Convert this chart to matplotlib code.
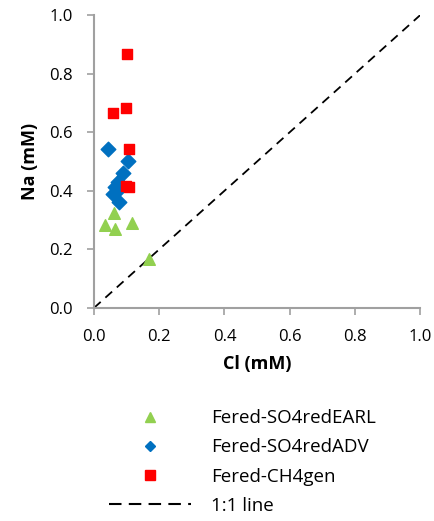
import matplotlib.pyplot as plt
from matplotlib.lines import Line2D

# Data (Cl vs Na, mM)
earl_cl = [0.062, 0.034, 0.064, 0.118, 0.169, 0.075]
earl_na = [0.323, 0.283, 0.270, 0.291, 0.166, 0.437]

adv_cl = [0.044, 0.103, 0.090, 0.064, 0.059, 0.078, 0.075, 0.070]
adv_na = [0.543, 0.502, 0.460, 0.414, 0.390, 0.363, 0.430, 0.400]

ch4_cl = [0.100, 0.057, 0.097, 0.108, 0.108, 0.097]
ch4_na = [0.866, 0.666, 0.683, 0.544, 0.414, 0.416]

one_to_one = [0.0, 1.0]

plt.rcParams['font.family'] = ['Open Sans', 'DejaVu Sans']

fig = plt.figure(figsize=(4.35, 5.21), dpi=100)
ax = fig.add_axes([0.216, 0.409, 0.75, 0.562])

ax.plot(one_to_one, one_to_one, color='black', linestyle=(0, (5, 3.5)), linewidth=1.3, zorder=1)
ax.scatter(earl_cl, earl_na, marker='^', s=70, color='#92d050', zorder=2)
ax.scatter(adv_cl, adv_na, marker='D', s=55, color='#0070c0', zorder=3)
ax.scatter(ch4_cl, ch4_na, marker='s', s=60, color='#ff0000', zorder=4)

ax.set_xlim(0, 1)
ax.set_ylim(0, 1)
ax.set_xticks([0, 0.2, 0.4, 0.6, 0.8, 1.0])
ax.set_yticks([0, 0.2, 0.4, 0.6, 0.8, 1.0])
ax.xaxis.set_major_formatter(plt.FormatStrFormatter('%.1f'))
ax.yaxis.set_major_formatter(plt.FormatStrFormatter('%.1f'))
ax.tick_params(labelsize=12, color='#a0a0a0', length=5, width=1.2, pad=10.5)
for s in ['top', 'right']:
    ax.spines[s].set_visible(False)
for s in ['left', 'bottom']:
    ax.spines[s].set_color('#a0a0a0')
    ax.spines[s].set_linewidth(1.5)

ax.set_xlabel('Cl (mM)', fontsize=13, fontweight='bold', labelpad=7)
ax.set_ylabel('Na (mM)', fontsize=13, fontweight='bold', labelpad=7)

# Legend below plot
handles = [
    Line2D([], [], linestyle='none', marker='^', markersize=7, color='#92d050'),
    Line2D([], [], linestyle='none', marker='D', markersize=5.5, color='#0070c0'),
    Line2D([], [], linestyle='none', marker='s', markersize=7, color='#ff0000'),
    Line2D([], [], color='black', linestyle=(0, (6, 3.5)), linewidth=1.5),
]
labels = ['Fered-SO4redEARL', 'Fered-SO4redADV', 'Fered-CH4gen', '1:1 line']
fig.legend(handles, labels, loc='upper left', bbox_to_anchor=(0.233, 0.229),
           frameon=False, fontsize=13.5, handlelength=4.4, handletextpad=1.05,
           labelspacing=0.6, borderaxespad=0)

fig.savefig('out.png', dpi=100)
